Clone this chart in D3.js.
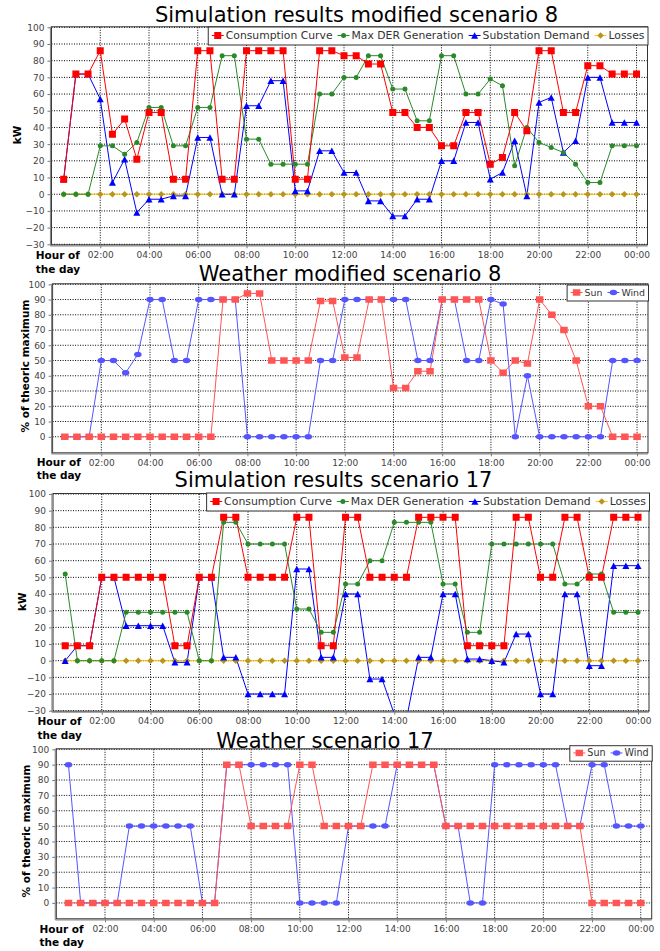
<!DOCTYPE html>
<html>
<head>
<meta charset="utf-8">
<script src="https://cdn.jsdelivr.net/npm/d3@7"></script>
<style>
  body { margin: 0; background: #fff; }
  svg { display: block; font-family: "DejaVu Sans", sans-serif; }
</style>
</head>
<body>
<svg width="660" height="951"></svg>
<script>
// half hour steps of the day, 00:30 .. 24:00
const hours = [0.5, 1, 1.5, 2, 2.5, 3, 3.5, 4, 4.5, 5, 5.5, 6, 6.5, 7, 7.5, 8, 8.5, 9, 9.5, 10, 10.5, 11, 11.5,
  12, 12.5, 13, 13.5, 14, 14.5, 15, 15.5, 16, 16.5, 17, 17.5, 18, 18.5, 19, 19.5, 20, 20.5, 21, 21.5, 22, 22.5, 23, 23.5, 24];
const hourTicks = [2, 4, 6, 8, 10, 12, 14, 16, 18, 20, 22, 24];
const hourTickLabels = ["02:00", "04:00", "06:00", "08:00", "10:00", "12:00", "14:00", "16:00", "18:00", "20:00", "22:00", "00:00"];
const powerTicks = [-30, -20, -10, 0, 10, 20, 30, 40, 50, 60, 70, 80, 90, 100];
const percentTicks = [0, 10, 20, 30, 40, 50, 60, 70, 80, 90, 100];

// simulation results modified scenario 8 (kW)
const cons8 = [9, 72, 72, 86, 36, 45, 21, 49, 49, 9, 9, 86, 86, 9, 9, 86, 86, 86, 86, 9, 9, 86, 86,
  83, 83, 78, 78, 49, 49, 40, 40, 29, 29, 49, 49, 18, 22, 49, 38, 86, 86, 49, 49, 77, 77, 72, 72, 72];
const der8 = [0, 0, 0, 29, 29, 24, 31, 52, 52, 29, 29, 52, 52, 83, 83, 33, 33, 18, 18, 18, 18, 60, 60,
  70, 70, 83, 83, 63, 63, 44, 44, 83, 83, 60, 60, 69, 65, 17, 40, 31, 28, 25, 18, 7, 7, 29, 29, 29];
const sub8 = [9, 72, 72, 57, 7, 21, -11, -3, -3, -1, -1, 34, 34, 0, 0, 53, 53, 68, 68, 2, 2, 26, 26,
  13, 13, -4, -4, -13, -13, -3, -3, 20, 20, 43, 43, 9, 13, 32, -1, 55, 58, 25, 32, 70, 70, 43, 43, 43];
const loss8 = [0, 0, 0, 0, 0, 0, 0, 0, 0, 0, 0, 0, 0, 0, 0, 0, 0, 0, 0, 0, 0, 0, 0, 0,
  0, 0, 0, 0, 0, 0, 0, 0, 0, 0, 0, 0, 0, 0, 0, 0, 0, 0, 0, 0, 0, 0, 0, 0];

// weather modified scenario 8 (% of theoric maximum)
const sun8 = [0, 0, 0, 0, 0, 0, 0, 0, 0, 0, 0, 0, 0, 90, 90, 94, 94, 50, 50, 50, 50, 89, 89,
  52, 52, 90, 90, 32, 32, 43, 43, 90, 90, 90, 90, 50, 42, 50, 48, 90, 80, 70, 50, 20, 20, 0, 0, 0];
const wind8 = [0, 0, 0, 50, 50, 42, 54, 90, 90, 50, 50, 90, 90, 90, 90, 0, 0, 0, 0, 0, 0, 50, 50,
  90, 90, 90, 90, 90, 90, 50, 50, 90, 90, 50, 50, 90, 87, 0, 40, 0, 0, 0, 0, 0, 0, 50, 50, 50];

// simulation results scenario 17 (kW)
const cons17 = [9, 9, 9, 50, 50, 50, 50, 50, 50, 9, 9, 50, 50, 86, 86, 50, 50, 50, 50, 86, 86, 9, 9,
  86, 86, 50, 50, 50, 50, 86, 86, 86, 86, 9, 9, 9, 9, 86, 86, 50, 50, 86, 86, 50, 50, 86, 86, 86];
const der17 = [52, 0, 0, 0, 0, 29, 29, 29, 29, 29, 29, 0, 0, 83, 83, 70, 70, 70, 70, 31, 31, 17, 17,
  46, 46, 60, 60, 83, 83, 83, 83, 46, 46, 17, 17, 70, 70, 70, 70, 70, 70, 46, 46, 52, 52, 29, 29, 29];
const sub17 = [0, 9, 9, 50, 50, 21, 21, 21, 21, -1, -1, 50, 50, 2, 2, -20, -20, -20, -20, 55, 55, 2, 2,
  40, 40, -11, -11, -32, -35, 2, 2, 40, 40, 1, 1, 0, -1, 16, 16, -20, -20, 40, 40, -3, -3, 57, 57, 57];
const loss17 = [0, 0, 0, 0, 0, 0, 0, 0, 0, 0, 0, 0, 0, 0, 0, 0, 0, 0, 0, 0, 0, 0, 0, 0,
  0, 0, 0, 0, 0, 0, 0, 0, 0, 0, 0, 0, 0, 0, 0, 0, 0, 0, 0, 0, 0, 0, 0, 0];

// weather scenario 17 (% of theoric maximum)
const sun17 = [0, 0, 0, 0, 0, 0, 0, 0, 0, 0, 0, 0, 0, 90, 90, 50, 50, 50, 50, 90, 90, 50, 50,
  50, 50, 90, 90, 90, 90, 90, 90, 50, 50, 50, 50, 50, 50, 50, 50, 50, 50, 50, 50, 0, 0, 0, 0, 0];
const wind17 = [90, 0, 0, 0, 0, 50, 50, 50, 50, 50, 50, 0, 0, 90, 90, 90, 90, 90, 90, 0, 0, 0, 0,
  50, 50, 50, 50, 90, 90, 90, 90, 50, 50, 0, 0, 90, 90, 90, 90, 90, 90, 50, 50, 90, 90, 50, 50, 50];

const simNames = ["Consumption Curve", "Max DER Generation", "Substation Demand", "Losses"];
const weatherNames = ["Sun", "Wind"];

const svg = d3.select("svg");

function simSeries(cons, der, sub, loss) {
  return [
    { name: simNames[0], values: cons, line: "#ff0000", fill: "#ff0000", shape: "square", w: 7, h: 7 },
    { name: simNames[1], values: der, line: "#2a8a2a", fill: "#2a8a2a", shape: "ellipse", w: 5, h: 5 },
    { name: simNames[2], values: sub, line: "#0000ff", fill: "#0000ff", shape: "triangle", w: 7, h: 6.5 },
    { name: simNames[3], values: loss, line: "#ffc800", fill: "#b8961e", shape: "diamond", w: 6.5, h: 6.5 }
  ];
}

function weatherSeries(sun, wind) {
  return [
    { name: weatherNames[0], values: sun, line: "#ff5555", fill: "#ff5555", shape: "square", w: 7.5, h: 6.5 },
    { name: weatherNames[1], values: wind, line: "#5555ff", fill: "#5555ff", shape: "ellipse", w: 7.5, h: 5.5 }
  ];
}

function shapePath(s) {
  const w = s.w / 2, h = s.h / 2;
  if (s.shape === "square") return `M${-w},${-h}H${w}V${h}H${-w}Z`;
  if (s.shape === "triangle") return `M0,${-h}L${w},${h}L${-w},${h}Z`;
  if (s.shape === "diamond") return `M0,${-h}L${w},0L0,${h}L${-w},0Z`;
  return `M${-w},0A${w},${h} 0 1,0 ${w},0A${w},${h} 0 1,0 ${-w},0Z`;
}

const panels = [
  { title: "Simulation results modified scenario 8", titleX: 356.5, titleY: 21.7,
    left: 51.5, right: 647.5, top: 27.3, bottom: 244.3, yDomain: [-30, 100], yTicks: powerTicks,
    yLabel: "kW", yLabelX: 17, yLabelY: 135, hourX: 35.7, hourY: [255, 269.3],
    legendTop: 27, legendH: 18, legendFont: 10.8, series: simSeries(cons8, der8, sub8, loss8) },
  { title: "Weather modified scenario 8", titleX: 350, titleY: 280.7,
    left: 52.6, right: 648, top: 284.3, bottom: 452.3, yDomain: [-10.2, 100], yTicks: percentTicks,
    yLabel: "% of theoric maximum", yLabelX: 25, yLabelY: 366, hourX: 36.7, hourY: [462.3, 475.3],
    legendTop: 285, legendH: 16, legendFont: 9.4, series: weatherSeries(sun8, wind8) },
  { title: "Simulation results scenario 17", titleX: 333.5, titleY: 487.3,
    left: 53, right: 649, top: 494, bottom: 710.7, yDomain: [-30, 100], yTicks: powerTicks,
    yLabel: "kW", yLabelX: 22.7, yLabelY: 601.7, hourX: 37.5, hourY: [721.7, 735.2],
    legendTop: 493, legendH: 18, legendFont: 10.9, series: simSeries(cons17, der17, sub17, loss17) },
  { title: "Weather scenario 17", titleX: 325, titleY: 747.7,
    left: 56.3, right: 651.7, top: 749.3, bottom: 918.3, yDomain: [-10, 100], yTicks: percentTicks,
    yLabel: "% of theoric maximum", yLabelX: 26.7, yLabelY: 831, hourX: 39.5, hourY: [929, 942.3],
    legendTop: 745.7, legendH: 15.5, legendFont: 9.6, series: weatherSeries(sun17, wind17) }
];

panels.forEach(drawPanel);

function drawPanel(p, k) {
  const g = svg.append("g");
  const x = d3.scaleLinear().domain([0, 24.45]).range([p.left, p.right]);
  const y = d3.scaleLinear().domain(p.yDomain).range([p.bottom, p.top]);

  const clipId = "clip" + k;
  g.append("clipPath").attr("id", clipId)
    .append("rect")
    .attr("x", p.left).attr("y", p.top - 0.5)
    .attr("width", p.right - p.left).attr("height", p.bottom - p.top + 1);

  // grid
  g.append("g").selectAll("line").data(hourTicks).join("line")
    .attr("x1", d => x(d)).attr("x2", d => x(d))
    .attr("y1", p.top).attr("y2", p.bottom)
    .attr("stroke", "#000").attr("stroke-width", 1).attr("stroke-dasharray", "1,1.5");
  g.append("g").selectAll("line").data(p.yTicks).join("line")
    .attr("x1", p.left).attr("x2", p.right)
    .attr("y1", d => y(d)).attr("y2", d => y(d))
    .attr("stroke", "#000").attr("stroke-width", 1).attr("stroke-dasharray", "1,1.5");

  // axes
  const yAxis = g.append("g").attr("transform", `translate(${p.left - 1},0)`)
    .call(d3.axisLeft(y).tickValues(p.yTicks).tickSize(3).tickPadding(3));
  const xAxis = g.append("g").attr("transform", `translate(0,${p.bottom + 1})`)
    .call(d3.axisBottom(x).tickValues(hourTicks).tickSize(3).tickPadding(3)
      .tickFormat((d, i) => hourTickLabels[i]));
  [yAxis, xAxis].forEach(a => {
    a.select(".domain").remove();
    a.selectAll("text").attr("fill", "#444").style("font-size", "9px")
      .style("font-family", "'DejaVu Sans', sans-serif");
    a.selectAll("line").attr("stroke", "#777");
  });

  // frame
  g.append("rect")
    .attr("x", p.left).attr("y", p.top - 0.5)
    .attr("width", p.right - p.left).attr("height", p.bottom - p.top + 1)
    .attr("fill", "none").attr("stroke", "#333").attr("stroke-width", 1);
  g.append("line").attr("x1", p.left - 1).attr("x2", p.left - 1)
    .attr("y1", p.top - 0.5).attr("y2", p.bottom + 1.5)
    .attr("stroke", "#888").attr("stroke-width", 1.2);
  g.append("line").attr("x1", p.left - 1).attr("x2", p.right)
    .attr("y1", p.bottom + 1.5).attr("y2", p.bottom + 1.5)
    .attr("stroke", "#888").attr("stroke-width", 1.2);

  // series: first series drawn on top, lines below shapes
  const order = p.series.slice().reverse();
  const plot = g.append("g").attr("clip-path", `url(#${clipId})`);
  const line = d3.line().x((d, i) => x(hours[i])).y(d => y(d));
  order.forEach(s => {
    plot.append("path").datum(s.values)
      .attr("d", line).attr("fill", "none")
      .attr("stroke", s.line).attr("stroke-width", 1);
  });
  order.forEach(s => {
    plot.append("g").selectAll("path").data(s.values).join("path")
      .attr("transform", (d, i) => `translate(${x(hours[i])},${y(d)})`)
      .attr("d", shapePath(s)).attr("fill", s.fill);
  });

  // legend
  const lg = g.append("g");
  let cx = 4;
  p.series.forEach(s => {
    const it = lg.append("g");
    it.append("line").attr("x1", cx).attr("x2", cx + 12)
      .attr("y1", p.legendH / 2).attr("y2", p.legendH / 2)
      .attr("stroke", s.line).attr("stroke-width", 1);
    it.append("path").attr("transform", `translate(${cx + 6},${p.legendH / 2})`)
      .attr("d", shapePath(s)).attr("fill", s.fill);
    const t = it.append("text").attr("x", cx + 14).attr("y", p.legendH / 2).attr("dy", "0.36em")
      .attr("fill", "#333").style("font-size", p.legendFont + "px").text(s.name);
    cx += 14 + t.node().getComputedTextLength() + 5;
  });
  const lw = cx - 5 + 3;
  lg.insert("rect", ":first-child").attr("x", 0.5).attr("y", 0.5)
    .attr("width", lw).attr("height", p.legendH)
    .attr("fill", "#fff").attr("stroke", "#333").attr("stroke-width", 1);
  lg.attr("transform", `translate(${p.right - lw},${p.legendTop - 0.5})`);

  // titles and axis labels
  g.append("text").attr("x", p.titleX).attr("y", p.titleY)
    .attr("text-anchor", "middle").style("font-size", "21px").attr("fill", "#000")
    .text(p.title);
  g.append("text")
    .attr("transform", `translate(${p.yLabelX},${p.yLabelY}) rotate(-90)`)
    .attr("text-anchor", "middle").attr("dy", "0.35em")
    .style("font-size", "10.5px").style("font-weight", "bold").text(p.yLabel);
  ["Hour of", "the day"].forEach((t, i) => {
    g.append("text").attr("x", p.hourX).attr("y", p.hourY[i]).attr("dy", "0.35em")
      .style("font-size", "10.5px").style("font-weight", "bold").text(t);
  });
}
</script>
</body>
</html>
